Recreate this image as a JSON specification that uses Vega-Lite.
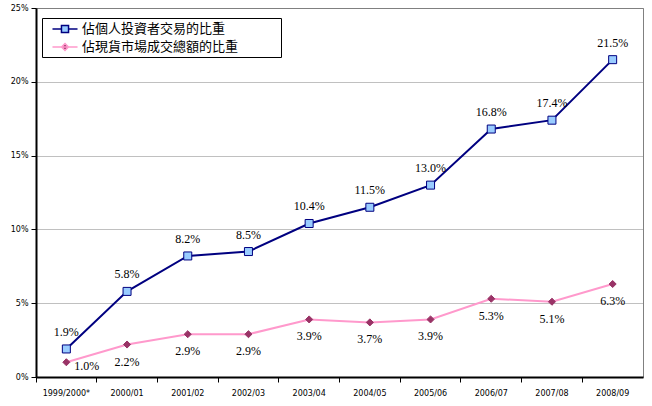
{
  "$schema": "https://vega.github.io/schema/vega-lite/v6.json",
  "width": 607,
  "height": 369,
  "autosize": {"type": "none"},
  "padding": {"left": 36, "top": 8, "right": 9, "bottom": 29},
  "background": "white",
  "config": {
    "view": {"stroke": "#808080", "strokeWidth": 1},
    "axis": {"labelFont": "DejaVu Sans", "labelFontSize": 8, "labelColor": "black", "tickColor": "black", "domainColor": "black", "domainWidth": 2}
  },
  "data": {
    "values": [
      {"year": "1999/2000*", "series": "佔個人投資者交易的比重", "share": 0.019},
      {"year": "2000/01", "series": "佔個人投資者交易的比重", "share": 0.058},
      {"year": "2001/02", "series": "佔個人投資者交易的比重", "share": 0.082},
      {"year": "2002/03", "series": "佔個人投資者交易的比重", "share": 0.085},
      {"year": "2003/04", "series": "佔個人投資者交易的比重", "share": 0.104},
      {"year": "2004/05", "series": "佔個人投資者交易的比重", "share": 0.115},
      {"year": "2005/06", "series": "佔個人投資者交易的比重", "share": 0.130},
      {"year": "2006/07", "series": "佔個人投資者交易的比重", "share": 0.168},
      {"year": "2007/08", "series": "佔個人投資者交易的比重", "share": 0.174},
      {"year": "2008/09", "series": "佔個人投資者交易的比重", "share": 0.215},
      {"year": "1999/2000*", "series": "佔現貨市場成交總額的比重", "share": 0.010},
      {"year": "2000/01", "series": "佔現貨市場成交總額的比重", "share": 0.022},
      {"year": "2001/02", "series": "佔現貨市場成交總額的比重", "share": 0.029},
      {"year": "2002/03", "series": "佔現貨市場成交總額的比重", "share": 0.029},
      {"year": "2003/04", "series": "佔現貨市場成交總額的比重", "share": 0.039},
      {"year": "2004/05", "series": "佔現貨市場成交總額的比重", "share": 0.037},
      {"year": "2005/06", "series": "佔現貨市場成交總額的比重", "share": 0.039},
      {"year": "2006/07", "series": "佔現貨市場成交總額的比重", "share": 0.053},
      {"year": "2007/08", "series": "佔現貨市場成交總額的比重", "share": 0.051},
      {"year": "2008/09", "series": "佔現貨市場成交總額的比重", "share": 0.063}
    ]
  },
  "encoding": {
    "x": {
      "field": "year",
      "type": "ordinal",
      "sort": null,
      "scale": {"type": "band", "paddingInner": 0, "paddingOuter": 0},
      "axis": {"title": null, "labelAngle": 0, "bandPosition": 0, "tickSize": 5, "labelPadding": 7, "grid": false}
    },
    "y": {
      "field": "share",
      "type": "quantitative",
      "scale": {"domain": [0, 0.25]},
      "axis": {"title": null, "format": ".0%", "values": [0, 0.05, 0.1, 0.15, 0.2, 0.25], "tickSize": 5, "labelPadding": 3, "gridColor": "#808080", "gridDash": [1, 1], "gridWidth": 1}
    }
  },
  "layer": [
    {
      "mark": {"type": "line", "strokeWidth": 2},
      "encoding": {
        "stroke": {
          "field": "series",
          "type": "nominal",
          "scale": {"domain": ["佔個人投資者交易的比重", "佔現貨市場成交總額的比重"], "range": ["#000080", "#FF99CC"]},
          "legend": {
            "orient": "none",
            "legendX": 6,
            "legendY": 10,
            "title": null,
            "strokeColor": "black",
            "fillColor": "white",
            "padding": 3,
            "rowPadding": 3,
            "labelFont": "Noto Sans CJK TC",
            "labelFontSize": 13,
            "labelColor": "black",
            "labelLimit": 400,
            "labelExpr": "datum.label + '\u3000\u3000\u3000\u200b'",
            "symbolSize": 200,
            "symbolStrokeWidth": 1.5,
            "symbolOffset": 12,
            "labelOffset": 9,
            "encode": {
              "symbols": {
                "update": {
                  "shape": {"signal": "datum.value === '佔個人投資者交易的比重' ? 'M-1.77,0H-0.5M0.5,0H1.77M-0.5,-0.5H0.5V0.5H-0.5Z' : 'M-1.77,0H1.77M0,-0.48L0.48,0L0,0.48L-0.48,0Z'"},
                  "fill": {"signal": "datum.value === '佔個人投資者交易的比重' ? '#99CCFF' : '#993366'"},
                  "opacity": {"value": 1}
                }
              }
            }
          }
        }
      }
    },
    {
      "transform": [{"filter": "datum.series === '佔個人投資者交易的比重'"}],
      "mark": {"type": "point", "shape": "square", "filled": true, "fill": "#99CCFF", "stroke": "#000080", "strokeWidth": 1, "opacity": 1, "size": 64}
    },
    {
      "transform": [{"filter": "datum.series === '佔現貨市場成交總額的比重'"}],
      "mark": {"type": "point", "shape": "diamond", "filled": true, "fill": "#993366", "stroke": "#993366", "strokeWidth": 1, "opacity": 1, "size": 50}
    },
    {
      "transform": [{"filter": "datum.series === '佔個人投資者交易的比重'"}],
      "mark": {"type": "text", "font": "Liberation Serif", "fontSize": 12, "color": "black", "baseline": "middle", "dy": -17},
      "encoding": {"text": {"field": "share", "type": "quantitative", "format": ".1%"}}
    },
    {
      "transform": [{"filter": "datum.series === '佔現貨市場成交總額的比重' && datum.year !== '1999/2000*'"}],
      "mark": {"type": "text", "font": "Liberation Serif", "fontSize": 12, "color": "black", "baseline": "middle", "dy": 17},
      "encoding": {"text": {"field": "share", "type": "quantitative", "format": ".1%"}}
    },
    {
      "transform": [{"filter": "datum.series === '佔現貨市場成交總額的比重' && datum.year === '1999/2000*'"}],
      "mark": {"type": "text", "font": "Liberation Serif", "fontSize": 12, "color": "black", "baseline": "middle", "align": "left", "dx": 8, "dy": 4},
      "encoding": {"text": {"field": "share", "type": "quantitative", "format": ".1%"}}
    }
  ]
}
